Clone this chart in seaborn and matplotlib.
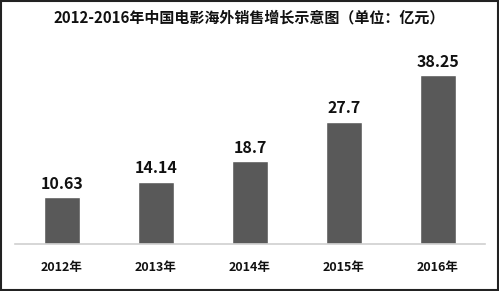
import matplotlib
matplotlib.use("Agg")
import matplotlib.pyplot as plt
import seaborn as sns
import pandas as pd

years = ["2012年", "2013年", "2014年", "2015年", "2016年"]
values = [10.63, 14.14, 18.7, 27.7, 38.25]
labels = ["10.63", "14.14", "18.7", "27.7", "38.25"]
title = "2012-2016年中国电影海外销售增长示意图（单位：亿元）"

sns.set_theme(style="white")
plt.rcParams['font.family'] = ['Noto Sans CJK SC', 'DejaVu Sans']

df = pd.DataFrame({"year": years, "value": values})

fig = plt.figure(figsize=(4.99, 2.91), dpi=100)
ax = fig.add_axes([15/499, 1-244/291, 470/499, 204/291])
sns.barplot(data=df, x="year", y="value", color="#595959", width=0.39,
            saturation=1, ax=ax)
ax.set_ylim(0, 46.2)
ax.set_xlim(-0.5, 4.5)
for i, (v, lab) in enumerate(zip(values, labels)):
    ax.text(i, v + 1.2, lab, ha="center", va="bottom", fontsize=11.5,
            fontweight="bold", color="#111111")
ax.set_xlabel("")
ax.set_ylabel("")
ax.set_yticks([])
for s in ["top", "left", "right"]:
    ax.spines[s].set_visible(False)
ax.spines["bottom"].set_color("#d0d0d0")
ax.spines["bottom"].set_linewidth(1.2)
ax.tick_params(axis="x", length=0, pad=12)
for t in ax.get_xticklabels():
    t.set_fontsize(9)
    t.set_fontweight("bold")
    t.set_color("#111111")
fig.text(0.5, 1-17/291, title, ha="center", va="center", fontsize=10.8,
         fontweight="bold", color="#111111")
fig.patches.append(plt.Rectangle((0.002, 0.003), 0.996, 0.994, transform=fig.transFigure,
                                 fill=False, edgecolor="#222222", linewidth=1.5))
fig.savefig("out.png", dpi=100)
